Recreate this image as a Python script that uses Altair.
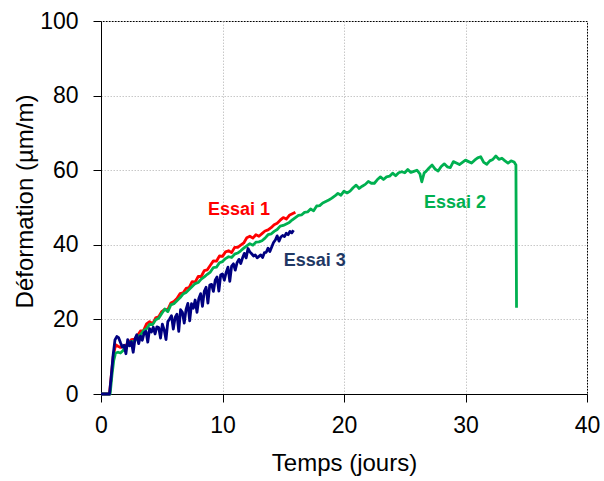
import altair as alt
import pandas as pd

# ---- Essai 1 (red)
e1_x = [0, 0.7, 0.85, 1.0, 1.2, 1.4, 1.6, 1.8, 2.0,
        2.25, 2.5, 2.75, 3.0, 3.25, 3.5, 3.75, 4.0, 4.25, 4.5, 4.75, 5.0,
        5.25, 5.5, 5.75, 6.0, 6.25, 6.5, 6.75, 7.0, 7.25, 7.5, 7.75, 8.0,
        8.25, 8.5, 8.75, 9.0, 9.25, 9.5, 9.75, 10.0, 10.25, 10.5, 10.75, 11.0,
        11.25, 11.5, 11.75, 12.0, 12.25, 12.5, 12.75, 13.0, 13.25, 13.5, 13.75, 14.0,
        14.25, 14.5, 14.75, 15.0, 15.25, 15.5, 15.75, 16.0]
e1_y = [0, 0, 5, 10, 13.2, 12.8, 12.5, 12.7, 13.0,
        13.5, 14.6, 14.7, 15.6, 16.9, 17.0, 18.8, 19.4, 18.8, 20.4, 20.7, 22.1,
        22.7, 22.6, 24.4, 24.8, 25.6, 26.9, 27.1, 28.3, 28.5, 30.1, 30.0, 31.5,
        31.5, 33.1, 33.3, 34.5, 35.7, 35.6, 37.0, 36.9, 38.1, 38.4, 37.9, 39.3,
        39.3, 39.9, 40.5, 41.9, 42.3, 41.8, 42.7, 42.3, 43.0, 43.7, 44.0, 44.6,
        45.4, 45.8, 46.6, 47.3, 46.9, 47.9, 48.3, 48.7]

# ---- Essai 2 (green)
e2_x = [0, 0.75, 0.9, 1.05, 1.2, 1.4, 1.6, 1.8, 2.0,
        2.25, 2.5, 2.75, 3.0, 3.25, 3.5, 3.75, 4.0, 4.25, 4.5, 4.75, 5.0,
        5.25, 5.5, 5.75, 6.0, 6.25, 6.5, 6.75, 7.0, 7.25, 7.5, 7.75, 8.0,
        8.25, 8.5, 8.75, 9.0, 9.25, 9.5, 9.75, 10.0, 10.25, 10.5, 10.75, 11.0,
        11.25, 11.5, 11.75, 12.0, 12.25, 12.5, 12.75, 13.0, 13.25, 13.5, 13.75, 14.0,
        14.25, 14.5, 14.75, 15.0, 15.25, 15.5, 15.75, 16.0, 16.25, 16.5, 16.75, 17.0,
        17.25, 17.5, 17.75, 18.0, 18.25, 18.5, 18.75, 19.0, 19.25, 19.5, 19.75, 20.0,
        20.25, 20.5, 20.75, 21.0, 21.25, 21.5, 21.75, 22.0, 22.25, 22.5, 22.75, 23.0,
        23.25, 23.5, 23.75, 24.0, 24.25, 24.5, 24.75, 25.0, 25.25, 25.5, 25.75, 26.0,
        26.25, 26.4, 26.6, 26.75, 27.0, 27.25, 27.5, 27.75, 28.0, 28.25, 28.5, 28.75,
        29.0, 29.25, 29.5, 29.75, 30.0, 30.25, 30.5, 30.75, 31.0, 31.25, 31.5, 31.75,
        32.0, 32.25, 32.5, 32.75, 33.0, 33.25, 33.5, 33.75, 34.0, 34.15, 34.2]
e2_y = [0, 0, 5, 9, 11.0, 11.2, 11.0, 11.6, 12.6,
        13.2, 14.1, 14.0, 15.3, 15.8, 17.0, 17.5, 18.7, 18.6, 19.9, 20.3, 21.6,
        22.8, 22.1, 23.9, 24.2, 25.0, 25.8, 26.8, 27.2, 28.0, 28.8, 29.6, 29.9,
        30.8, 31.4, 32.1, 32.7, 33.9, 34.0, 35.2, 35.5, 36.3, 36.8, 36.6, 37.5,
        37.8, 38.4, 39.1, 39.7, 40.3, 39.9, 40.7, 40.8, 41.1, 41.8, 42.7, 42.9,
        43.6, 44.1, 45.0, 45.2, 45.6, 46.0, 46.7, 47.3, 47.9, 48.0, 48.7, 48.8,
        49.6, 49.1, 50.4, 50.5, 51.2, 51.6, 52.0, 52.5, 53.1, 53.8, 53.3, 54.4,
        53.9, 54.4, 55.3, 56.0, 55.1, 55.7, 56.2, 57.0, 56.5, 56.5, 57.5, 58.2,
        57.5, 58.2, 58.4, 59.2, 58.5, 59.3, 59.6, 59.3, 60.2, 59.4, 59.7, 60.0,
        59.0, 56.9, 59.3, 59.7, 60.6, 61.4, 60.3, 59.8, 61.0, 61.7, 60.9, 60.7,
        62.3, 61.9, 61.5, 62.1, 62.7, 62.3, 61.9, 62.7, 63.3, 63.6, 62.1, 61.6,
        62.5, 62.9, 63.8, 62.9, 63.2, 62.5, 61.9, 62.5, 62.2, 61.4, 23.1]

# ---- Essai 3 (navy)
e3_x = [0, 0.7, 0.85, 1.0, 1.15, 1.3, 1.45, 1.6, 1.75, 1.9, 2.05, 2.2, 2.35, 2.5,
        2.65, 2.8, 2.95, 3.1, 3.25, 3.4, 3.55, 3.7, 3.85, 4.0, 4.15, 4.3, 4.45,
        4.6, 4.75, 4.9, 5.05, 5.2, 5.35, 5.5, 5.65, 5.8, 5.95, 6.1, 6.25, 6.4,
        6.55, 6.7, 6.85, 7.0, 7.15, 7.3, 7.45, 7.6, 7.75, 7.9, 8.05, 8.2, 8.35,
        8.5, 8.65, 8.8, 8.95, 9.1, 9.25, 9.4, 9.55, 9.7, 9.85, 10.0, 10.15, 10.3,
        10.45, 10.6, 10.75, 10.9, 11.05, 11.2, 11.35, 11.5, 11.65, 11.8, 11.95,
        12.1, 12.25, 12.4, 12.55, 12.7, 12.85, 13.0, 13.15, 13.3, 13.45, 13.6,
        13.75, 13.9, 14.05, 14.2, 14.35, 14.5, 14.65, 14.8, 14.95, 15.1, 15.25,
        15.4, 15.55, 15.7, 15.85]
e3_y = [0, 0, 5, 10.5, 14.5, 15.4, 15.1, 13.8, 12.6, 13.1, 10.8, 14.6, 12.9, 14.0,
        11.2, 14.8, 15.9, 13.5, 15.5, 14.4, 16.4, 16.8, 13.9, 17.5, 16.6, 17.9, 16.1,
        18.0, 17.8, 15.0, 18.7, 17.2, 14.6, 19.4, 20.1, 21.0, 17.4, 20.5, 21.4, 16.8,
        22.6, 21.9, 19.0, 22.7, 24.3, 19.6, 24.2, 23.0, 25.2, 21.9, 25.6, 26.9, 23.5,
        27.5, 28.6, 24.4, 29.2, 29.4, 27.5, 30.5, 31.4, 27.6, 31.9, 32.2, 30.5, 32.6,
        34.0, 30.2, 34.3, 34.9, 33.2, 35.2, 36.1, 35.0, 36.5, 37.7, 36.5,
        39.0, 38.1, 37.6, 37.0, 37.3, 36.5, 36.9, 37.3, 36.6, 37.9, 38.0,
        39.1, 38.2, 39.4, 40.6, 41.3, 42.4, 41.0, 42.1, 42.5, 42.2, 43.1,
        42.7, 43.6, 43.2, 43.9]

series_names = ["Essai 1", "Essai 2", "Essai 3"]
series_colors = ["#FF0000", "#00B050", "#000080"]

label_text = ["Essai 1", "Essai 2", "Essai 3"]
label_x = [11.36, 29.14, 17.6]
label_y = [49.3, 51.3, 35.7]
label_colors = ["#FF0000", "#00B050", "#1F3864"]

rows = []
for name, xs, ys in zip(series_names, [e1_x, e2_x, e3_x], [e1_y, e2_y, e3_y]):
    for i, (a, b) in enumerate(zip(xs, ys)):
        rows.append({"serie": name, "t": a, "d": b, "i": i})
df = pd.DataFrame(rows)

lab_df = pd.DataFrame({"txt": label_text, "x": label_x, "y": label_y, "c": label_colors})

FONT = "Liberation Sans"
xscale = alt.Scale(domain=[0, 40], nice=False, zero=False)
yscale = alt.Scale(domain=[0, 100], nice=False, zero=False)

xaxis = alt.Axis(title="Temps (jours)", values=[0, 10, 20, 30, 40], format="d",
                 labelPadding=12, labelFlush=False, labelOverlap=False,
                 titleY=76, titleBaseline="alphabetic")
yaxis = alt.Axis(title="Déformation (µm/m)", values=[0, 20, 40, 60, 80, 100], format="d",
                 labelPadding=15, labelFlush=False, labelOverlap=False,
                 titleX=-69, titleY=180, titleBaseline="alphabetic", titleAlign="center")

lines = alt.Chart(df).mark_line(strokeWidth=2.8, strokeJoin="round").encode(
    x=alt.X("t:Q", scale=xscale, axis=xaxis),
    y=alt.Y("d:Q", scale=yscale, axis=yaxis),
    color=alt.Color("serie:N", scale=alt.Scale(domain=series_names, range=series_colors), legend=None),
    order=alt.Order("i:Q"),
)

texts = alt.Chart(lab_df).mark_text(font=FONT, fontSize=18, fontWeight="bold",
                                    align="center", baseline="middle").encode(
    x=alt.X("x:Q", scale=xscale),
    y=alt.Y("y:Q", scale=yscale),
    text="txt:N",
    color=alt.Color("c:N", scale=None),
)

chart = (lines + texts).properties(
    width=486, height=373,
    autosize=alt.AutoSizeParams(type="none"),
    padding={"left": 101, "top": 21, "right": 17, "bottom": 87},
    background="white",
).configure_view(stroke="black", strokeWidth=1).configure_axis(
    domainColor="black", domainWidth=1, tickColor="black", tickSize=8, tickWidth=1,
    gridColor="#C8C8C8", gridDash=[1.5, 1.5], gridWidth=1,
    labelFont=FONT, labelFontSize=23, labelColor="black",
    titleFont=FONT, titleFontSize=24, titleFontWeight="normal", titleColor="black",
)

chart.save("out.html", embed_options={"renderer": "svg", "actions": False})
